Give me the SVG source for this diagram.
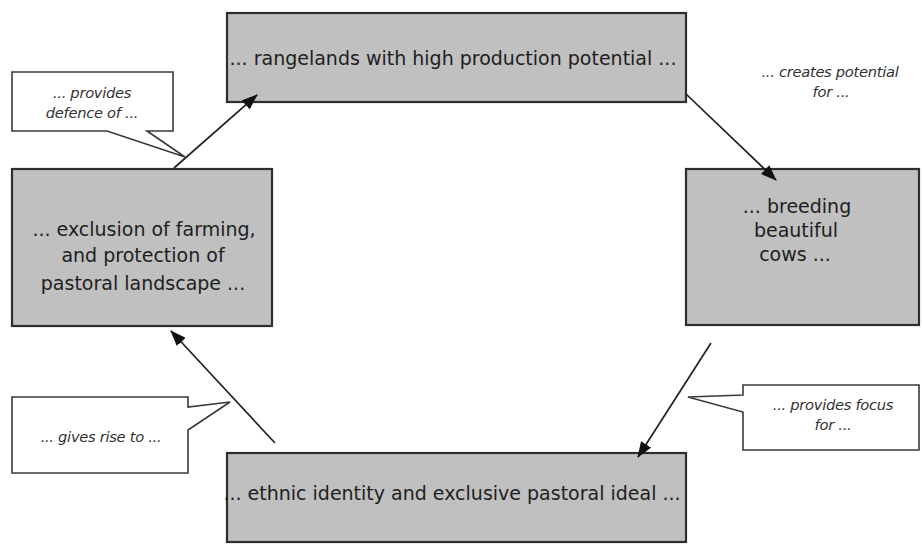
<svg xmlns="http://www.w3.org/2000/svg" width="922" height="546" viewBox="0 0 922 546">
  <style>
    .box { fill: #c0c0c0; stroke: #2e2e2e; stroke-width: 2.2; }
    .label { font-family: "DejaVu Sans", Verdana, sans-serif; font-size: 19px; fill: #1e1e1e; text-anchor: middle; }
    .callout { fill: #ffffff; stroke: #3a3a3a; stroke-width: 1.6; stroke-linejoin: miter; }
    .note { font-family: "DejaVu Sans", Verdana, sans-serif; font-size: 14.7px; font-style: italic; fill: #333; text-anchor: middle; letter-spacing: -0.3px; }
    .link { stroke: #222; stroke-width: 1.7; fill: none; marker-end: url(#head); }
  </style>
  <defs>
    <marker id="head" viewBox="0 0 16 12" refX="15" refY="6" markerWidth="16" markerHeight="12" markerUnits="userSpaceOnUse" orient="auto">
      <path d="M0,0 L16,6 L0,12 Z" fill="#111"/>
    </marker>
  </defs>

  <!-- main statements -->
  <g id="rangelands">
    <rect class="box" x="227" y="13" width="459" height="89"/>
    <text class="label" x="453" y="65">... rangelands with high production potential ...</text>
  </g>
  <g id="cows">
    <rect class="box" x="686" y="169" width="233" height="156"/>
    <text class="label" x="797" y="213">... breeding</text>
    <text class="label" x="796" y="237">beautiful</text>
    <text class="label" x="795" y="261">cows ...</text>
  </g>
  <g id="identity">
    <rect class="box" x="227" y="453" width="459" height="89"/>
    <text class="label" x="452" y="500">... ethnic identity and exclusive pastoral ideal ...</text>
  </g>
  <g id="exclusion">
    <rect class="box" x="12" y="169" width="260" height="157"/>
    <text class="label" x="144" y="236">... exclusion of farming,</text>
    <text class="label" x="143" y="262">and protection of</text>
    <text class="label" x="143" y="290">pastoral landscape ...</text>
  </g>

  <!-- connectors -->
  <g id="connectors">
    <line class="link" x1="174" y1="168" x2="257" y2="95"/>
    <line class="link" x1="686" y1="94" x2="776" y2="180"/>
    <line class="link" x1="711" y1="343" x2="638" y2="457"/>
    <line class="link" x1="275" y1="443" x2="171" y2="331"/>
  </g>

  <!-- relation notes -->
  <g id="note-defence">
    <path class="callout" d="M12,72 H173 V131 H147 L185,157 L107,131 H12 Z"/>
    <text class="note" x="92" y="98">... provides</text>
    <text class="note" x="92" y="118">defence of ...</text>
  </g>
  <g id="note-potential">
    <text class="note" x="830" y="77">... creates potential</text>
    <text class="note" x="831" y="97">for ...</text>
  </g>
  <g id="note-focus">
    <path class="callout" d="M743,385 H919 V450 H743 V412 L688,397 L743,395 Z"/>
    <text class="note" x="833" y="410">... provides focus</text>
    <text class="note" x="833" y="430">for ...</text>
  </g>
  <g id="note-rise">
    <path class="callout" d="M12,397 H188 V407 L230,402 L188,430 V473 H12 Z"/>
    <text class="note" x="101" y="442">... gives rise to  ...</text>
  </g>
</svg>
